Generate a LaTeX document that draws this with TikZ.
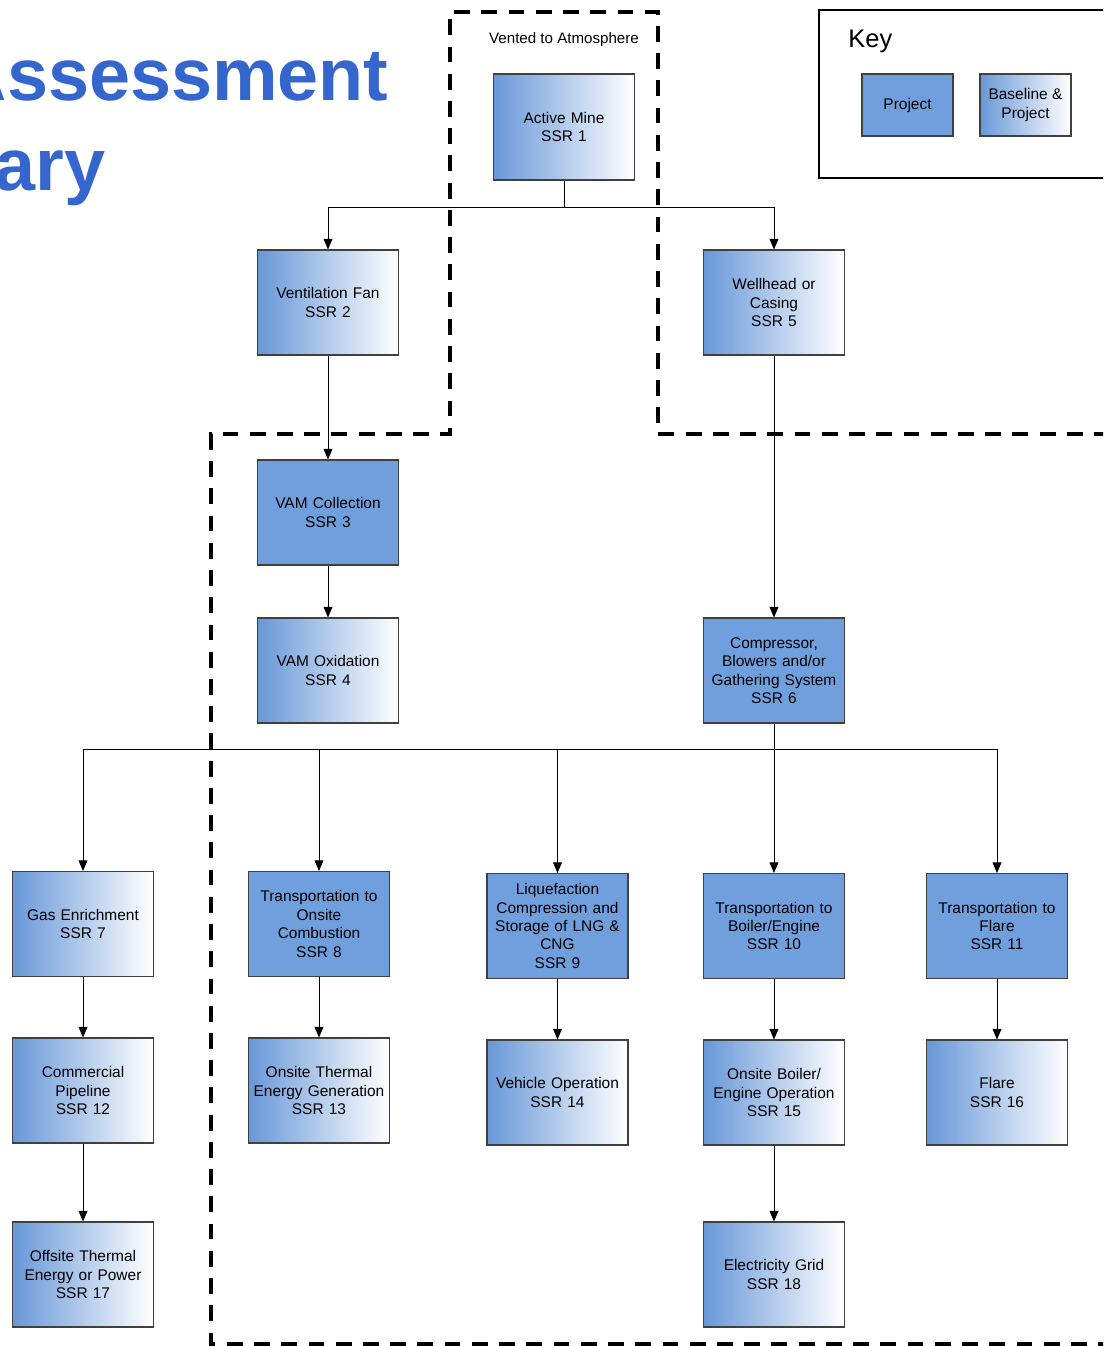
\documentclass[tikz,border=0pt]{standalone}
\usepackage{fontspec}
\setmainfont{Liberation Sans}
\usetikzlibrary{arrows.meta}
\definecolor{projblue}{RGB}{111,159,220}
\definecolor{gradblue}{RGB}{104,152,216}
\definecolor{titleblue}{RGB}{52,102,205}
\tikzset{
  boxbase/.style={draw=black!75, line width=0.6pt, minimum width=2.8cm, minimum height=2.1cm,
    align=center, inner sep=1pt, text width=2.74cm, font=\fontsize{8.8}{10.5}\selectfont},
  projbox/.style={boxbase, fill=projblue},
  bothbox/.style={boxbase, left color=gradblue, right color=white},
  keybox/.style={draw=black!75, line width=0.6pt, minimum width=1.82cm, minimum height=1.24cm,
    align=center, inner sep=1pt, font=\fontsize{8.8}{10.5}\selectfont},
  arr/.style={-{Triangle[length=6pt,width=5pt]}, line width=0.5pt},
  bound/.style={line width=2.2pt, dash pattern=on 9pt off 6.5pt},
  titletext/.style={inner sep=0pt, text=titleblue, font=\fontsize{42}{51}\selectfont\bfseries},
}
\begin{document}
\begin{tikzpicture}[x=0.02cm, y=-0.02cm]
\useasboundingbox (0,0) rectangle (1103,1346);
\clip (0,0) rectangle (1103,1346);
\fill[white] (0,0) rectangle (1103,1346);

% title
\node[titletext, anchor=base east] (t1) at (389,100) {Assessment};
\node[titletext, anchor=base east] (t2) at (106,190) {Boundary};

% key
\draw[line width=1.1pt] (1110,10) -- (819,10) -- (819,178) -- (1110,178);
\node[anchor=base west, inner sep=0pt, font=\fontsize{14.5}{17}\selectfont] (keylbl) at (848,47) {Key};
\node[keybox, fill=projblue] (kp) at (907.5,105) {Project};
\node[keybox, left color=gradblue, right color=white] (kb) at (1025.5,105) {Baseline \&\\Project};

% boundaries
\draw[bound] (1110,434) -- (658,434) -- (658,12) -- (450,12) -- (450,434) -- (211,434) -- (211,1344) -- (1110,1344);
\node[inner sep=0pt, font=\fontsize{8.6}{10}\selectfont] (vent) at (564,40) {Vented to Atmosphere};

% boxes
\node[bothbox, minimum height=2.12cm] (s1) at (564,127) {Active Mine\\SSR 1};
\node[bothbox] (s2) at (328,302.5) {Ventilation Fan\\SSR 2};
\node[bothbox] (s5) at (774,302.5) {Wellhead or\\Casing\\SSR 5};
\node[projbox] (s3) at (328,512.5) {VAM Collection\\SSR 3};
\node[bothbox] (s4) at (328,670.5) {VAM Oxidation\\SSR 4};
\node[projbox] (s6) at (774,670.5) {Compressor,\\Blowers and/or\\Gathering System\\SSR 6};
\node[bothbox] (s7) at (83,924) {Gas Enrichment\\SSR 7};
\node[projbox] (s8) at (319,924) {Transportation to\\Onsite\\Combustion\\SSR 8};
\node[projbox, minimum width=2.82cm] (s9) at (557.5,926) {Liquefaction\\Compression and\\Storage of LNG \&\\CNG\\SSR 9};
\node[projbox] (s10) at (774,926) {Transportation to\\Boiler/Engine\\SSR 10};
\node[projbox] (s11) at (997,926) {Transportation to\\Flare\\SSR 11};
\node[bothbox] (s12) at (83,1090.5) {Commercial\\Pipeline\\SSR 12};
\node[bothbox] (s13) at (319,1090.5) {Onsite Thermal\\Energy Generation\\SSR 13};
\node[bothbox, minimum width=2.82cm] (s14) at (557.5,1092.5) {Vehicle Operation\\SSR 14};
\node[bothbox] (s15) at (774,1092.5) {Onsite Boiler/\\Engine Operation\\SSR 15};
\node[bothbox] (s16) at (997,1092.5) {Flare\\SSR 16};
\node[bothbox] (s17) at (83,1274.5) {Offsite Thermal\\Energy or Power\\SSR 17};
\node[bothbox] (s18) at (774,1274.5) {Electricity Grid\\SSR 18};

% connectors
\draw[arr] (s1.south) -- ++(0,27) -| (s2.north);
\draw[arr] (s1.south) -- ++(0,27) -| (s5.north);
\draw[arr] (s2) -- (s3);
\draw[arr] (s3) -- (s4);
\draw[arr] (s5) -- (s6);
\draw[arr] (s6.south) -- ++(0,26) -| (s7.north);
\draw[arr] (s6.south) -- ++(0,26) -| (s8.north);
\draw[arr] (s6.south) -- ++(0,26) -| (s9.north);
\draw[arr] (s6.south) -- (s10.north);
\draw[arr] (s6.south) -- ++(0,26) -| (s11.north);
\draw[arr] (s7) -- (s12);
\draw[arr] (s12) -- (s17);
\draw[arr] (s8) -- (s13);
\draw[arr] (s9) -- (s14);
\draw[arr] (s10) -- (s15);
\draw[arr] (s15) -- (s18);
\draw[arr] (s11) -- (s16);
\end{tikzpicture}
\end{document}
